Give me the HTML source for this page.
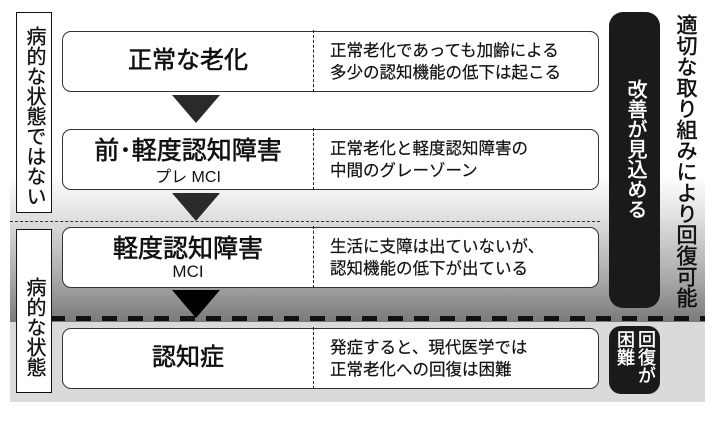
<!DOCTYPE html>
<html><head><meta charset="utf-8"><style>
*{margin:0;padding:0;box-sizing:border-box}
body{width:723px;height:427px;background:#fff;position:relative;overflow:hidden;font-family:"Liberation Sans","Noto Sans CJK JP",sans-serif;color:#111}
.a{position:absolute}
.bg{left:10px;top:0;width:695px;height:322px;background:linear-gradient(#fff 0px,#fff 175px,#e2e2e2 215px,#a8a8a8 280px,#7a7a7a 322px)}
.bg2{left:10px;top:322px;width:695px;height:80px;background:#dadada}
.lab{left:16px;width:36px;background:#fff;border:1.5px solid #111;writing-mode:vertical-rl;font-size:20px;line-height:34px;text-align:center;-webkit-text-stroke:0.3px #111}
.box{left:62px;width:537px;height:61px;background:#fff;border:1.3px solid #333;border-radius:9px}
.div{position:absolute;left:250px;top:-2px;height:62px;border-left:1.3px dashed #222}
.t{position:absolute;left:0;width:250px;text-align:center;font-size:24px;line-height:30px;-webkit-text-stroke:0.6px #111}
.s{position:absolute;left:0;width:250px;text-align:center;font-size:16px;line-height:20px}
.r{position:absolute;left:267px;top:8px;font-size:16.5px;line-height:22px;-webkit-text-stroke:0.2px #111}
.tri{width:0;height:0;border-left:24px solid transparent;border-right:24px solid transparent;border-top:28px solid #2a2a2a;left:172px}
.v{writing-mode:vertical-rl}
</style></head><body>
<div class="a bg"></div><div class="a bg2"></div>
<div class="a" style="left:10px;top:221px;width:590px;border-top:1.3px dashed #333"></div>
<div class="a" style="left:50px;top:316px;width:655px;height:5px;background:repeating-linear-gradient(90deg,#111 0 15px,transparent 15px 26px)"></div>
<div class="a lab" style="top:12px;height:201px;padding-top:6px">病的な状態ではない</div>
<div class="a lab" style="top:229px;height:164px;padding-top:32px">病的な状態</div>

<div class="a box" style="top:31px"><div class="div"></div><div class="t" style="top:14px">正常な老化</div><div class="r">正常老化であっても加齢による<br>多少の認知機能の低下は起こる</div></div>
<div class="a box" style="top:129px"><div class="div"></div><div class="t" style="top:6px;font-size:25px">前･軽度認知障害</div><div class="s" style="top:38px">プレ MCI</div><div class="r">正常老化と軽度認知障害の<br>中間のグレーゾーン</div></div>
<div class="a box" style="top:227px"><div class="div"></div><div class="t" style="top:6px;font-size:25px">軽度認知障害</div><div class="s" style="top:34px;font-size:17px">MCI</div><div class="r">生活に支障は出ていないが、<br>認知機能の低下が出ている</div></div>
<div class="a box" style="top:328px"><div class="div"></div><div class="t" style="top:14px">認知症</div><div class="r">発症すると、現代医学では<br>正常老化への回復は困難</div></div>

<div class="a tri" style="top:95px"></div>
<div class="a tri" style="top:193px"></div>
<div class="a tri" style="top:290px;border-top-color:#000"></div>

<div class="a v" style="left:609px;top:12px;width:51px;height:296px;background:#1a1a1a;border-radius:14px;color:#fff;font-size:20px;line-height:51px;padding-top:67px;-webkit-text-stroke:0.5px #fff">改善が見込める</div>
<div class="a v" style="left:668px;top:14px;width:34px;height:300px;font-size:21px;line-height:34px;-webkit-text-stroke:0.5px #111">適切な取り組みにより回復可能</div>
<div class="a v" style="left:609px;top:326px;width:51px;height:68px;background:#1a1a1a;border-radius:12px;color:#fff;font-size:18px;line-height:21px;padding:4px 4px 0 0;-webkit-text-stroke:0.4px #fff">回復が<br>困難</div>
</body></html>
